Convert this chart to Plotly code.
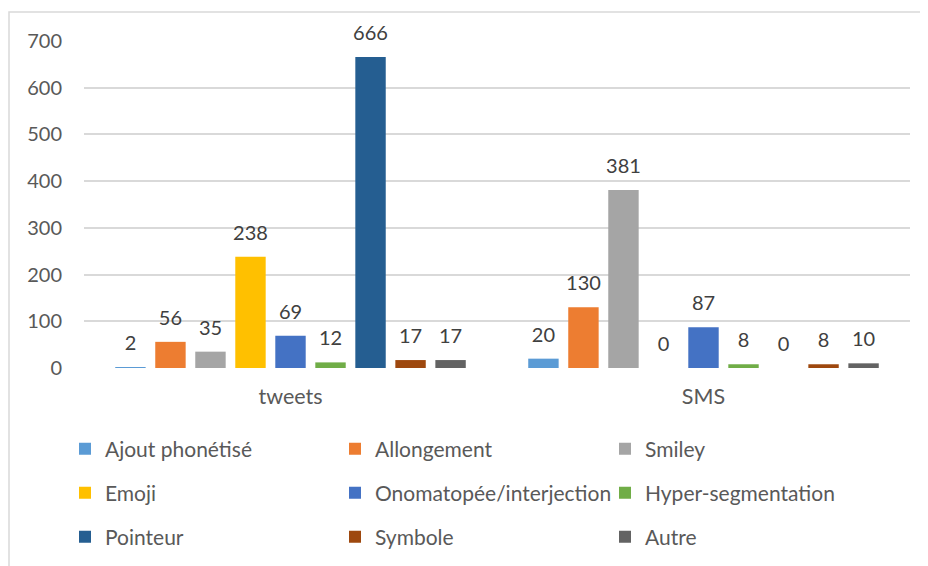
import plotly.graph_objects as go

# data ---------------------------------------------------------------
categories = ["tweets", "SMS"]
series_names = [
    "Ajout phonétisé", "Allongement", "Smiley",
    "Emoji", "Onomatopée/interjection", "Hyper-segmentation",
    "Pointeur", "Symbole", "Autre",
]
tweets_values = [2, 56, 35, 238, 69, 12, 666, 17, 17]
sms_values = [20, 130, 381, 0, 87, 8, 0, 8, 10]
y_ticks = [0, 100, 200, 300, 400, 500, 600, 700]

COLORS = [
    "#5B9BD5", "#ED7D31", "#A5A5A5",
    "#FFC000", "#4472C4", "#70AD47",
    "#255E91", "#9E480E", "#636363",
]
FONT = "Lato"
GREY_TEXT = "#595959"
GRID = "#D9D9D9"

# the page body has an 8px margin, so the figure is drawn 8px smaller
OFF = 8
W, H = 928 - OFF, 566 - OFF
L, R, T, B = 84 - OFF, 18, 41 - OFF, 198
PW, PH = W - L - R, H - T - B

# extra invisible padding so labels sit higher above the bars (Excel look)
PAD = "<span style='font-size:64px'>\u00a0</span>"


def px_to_paper_x(px):
    # px measured on the reference picture
    return (px - OFF - L) / PW


def px_to_paper_y(py):
    return (H - B - (py - OFF)) / PH


fig = go.Figure()

for i, name in enumerate(series_names):
    vals = [tweets_values[i], sms_values[i]]
    fig.add_trace(
        go.Bar(
            name=name,
            x=categories,
            y=vals,
            marker=dict(color=COLORS[i], line=dict(width=0)),
            text=[f"{PAD}{v}{PAD}" for v in vals],
            textposition="outside",
            textfont=dict(family=FONT, size=20, color="#404040"),
            constraintext="none",
            cliponaxis=False,
            legend=["legend", "legend2", "legend3"][i // 3],
            hoverinfo="x+y+name",
        )
    )

legend_rows_y = [449, 493, 537]
legend_common = dict(
    orientation="h",
    xanchor="left",
    yanchor="middle",
    x=px_to_paper_x(65),
    entrywidth=225,
    entrywidthmode="pixels",
    font=dict(family=FONT, size=21, color=GREY_TEXT),
    bgcolor="rgba(0,0,0,0)",
    itemclick=False,
    itemdoubleclick=False,
)

fig.update_layout(
    width=W,
    height=H,
    margin=dict(l=L, r=R, t=T, b=B, pad=0, autoexpand=False),
    paper_bgcolor="white",
    plot_bgcolor="white",
    barmode="group",
    bargap=0.128,
    bargroupgap=0.24,
    font=dict(family=FONT, size=20, color=GREY_TEXT),
    legend=dict(legend_common, y=px_to_paper_y(legend_rows_y[0])),
    legend2=dict(legend_common, y=px_to_paper_y(legend_rows_y[1])),
    legend3=dict(legend_common, y=px_to_paper_y(legend_rows_y[2])),
    xaxis=dict(
        showgrid=False,
        showline=False,
        zeroline=False,
        ticks="",
        ticklabelstandoff=13,
        tickfont=dict(family=FONT, size=21.5, color=GREY_TEXT),
    ),
    yaxis=dict(
        range=[0, 700],
        tickvals=y_ticks,
        showgrid=True,
        gridcolor=GRID,
        gridwidth=1.5,
        zeroline=False,
        showline=False,
        ticks="",
        ticklabelstandoff=21,
        tickfont=dict(family=FONT, size=20, color=GREY_TEXT),
    ),
    shapes=[
        # chart-area frame (only left and top edges visible in the crop)
        dict(
            type="rect",
            xref="paper", yref="paper",
            x0=px_to_paper_x(9), x1=px_to_paper_x(928 + 50),
            y0=px_to_paper_y(566 + 50), y1=px_to_paper_y(12),
            line=dict(color=GRID, width=1.5),
            fillcolor="rgba(0,0,0,0)",
            layer="below",
        )
    ],
)

fig.write_html("out.html")
